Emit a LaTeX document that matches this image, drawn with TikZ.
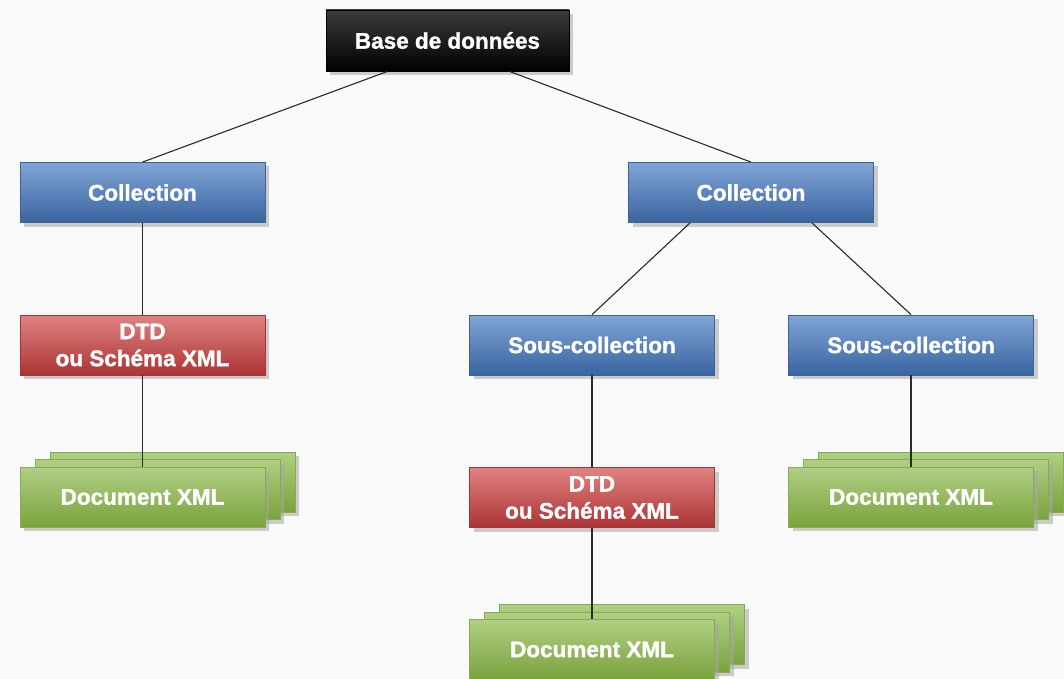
\documentclass[tikz,border=0pt]{standalone}
\usepackage{fontspec}
\setmainfont{Liberation Sans}[BoldFeatures={FakeBold=1.3}]
\usetikzlibrary{shadows}

\definecolor{bgcol}{HTML}{F9F9F9}
\definecolor{blktop}{HTML}{3C3C3C}
\definecolor{blkbot}{HTML}{000000}
\definecolor{blutop}{HTML}{80A5D6}
\definecolor{blubot}{HTML}{3A64A0}
\definecolor{bluedge}{HTML}{3D6296}
\definecolor{redtop}{HTML}{E08282}
\definecolor{redbot}{HTML}{AC3434}
\definecolor{rededge}{HTML}{9E3636}
\definecolor{grntop}{HTML}{B0CF84}
\definecolor{grnbot}{HTML}{7AA23C}
\definecolor{grnedge}{HTML}{86AC4E}
\definecolor{linecol}{HTML}{2A2A2A}

\tikzset{
  x=1pt, y=-1pt,
  boxbase/.style={minimum width=245pt, minimum height=60pt, inner sep=0pt,
    align=center, text=white, line width=0.8pt,
    font=\bfseries\fontsize{22.5}{27}\selectfont,
    drop shadow={shadow xshift=4pt, shadow yshift=-4pt, fill=black!35, opacity=0.55}},
  rootbox/.style={boxbase, minimum width=243pt, minimum height=61pt,
    top color=blktop, bottom color=blkbot, draw=black},
  bluebox/.style={boxbase, top color=blutop, bottom color=blubot, draw=bluedge},
  redbox/.style={boxbase, top color=redtop, bottom color=redbot, draw=rededge},
  greenbox/.style={boxbase, top color=grntop, bottom color=grnbot, draw=grnedge},
  link/.style={draw=linecol, line width=1.1pt}
}

\begin{document}
\begin{tikzpicture}
  \useasboundingbox[fill=bgcol] (0,0) rectangle (1064,679);

  % top level
  \node[rootbox] (base) at (447.5,40.5) {Base de données};

  % collections
  \node[bluebox] (colL) at (142.5,192.5) {Collection};
  \node[bluebox] (colR) at (751,192.5) {Collection};

  % schemas and sub-collections
  \node[redbox]  (dtdL) at (142.5,345) {DTD\\ou Schéma XML};
  \node[bluebox] (scM)  at (592,345) {Sous-collection};
  \node[bluebox] (scR)  at (911,345) {Sous-collection};
  \node[redbox]  (dtdM) at (592,497.5) {DTD\\ou Schéma XML};

  % stacked XML documents (back sheets first)
  \node[greenbox] (docLc) at (172.5,482) {};
  \node[greenbox] (docLb) at (157.5,489.5) {};
  \node[greenbox] (docL)  at (142.5,497) {Document XML};

  \node[greenbox] (docRc) at (941,482) {};
  \node[greenbox] (docRb) at (926,489.5) {};
  \node[greenbox] (docR)  at (911,497) {Document XML};

  \node[greenbox] (docMc) at (622,634.5) {};
  \node[greenbox] (docMb) at (607,642) {};
  \node[greenbox] (docM)  at (592,649.5) {Document XML};

  % connectors
  \draw[link] ([xshift=-60pt]base.south) -- (colL.north);
  \draw[link] ([xshift=62pt]base.south) -- (colR.north);
  \draw[link] (colL.south) -- (dtdL.north);
  \draw[link] (dtdL.south) -- (docL.north);
  \draw[link] ([xshift=-61pt]colR.south) -- (scM.north);
  \draw[link] ([xshift=61pt]colR.south) -- (scR.north);
  \draw[link] (scM.south) -- (dtdM.north);
  \draw[link] (dtdM.south) -- (docM.north);
  \draw[link] (scR.south) -- (docR.north);
\end{tikzpicture}
\end{document}
